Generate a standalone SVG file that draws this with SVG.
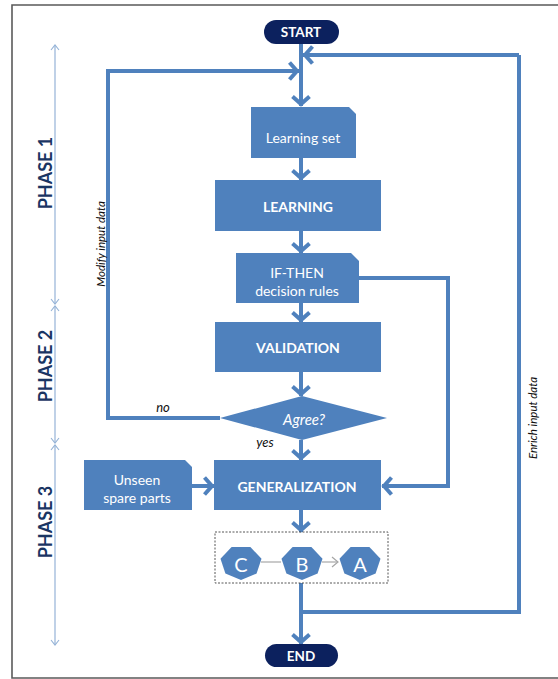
<svg xmlns="http://www.w3.org/2000/svg" width="558" height="679" viewBox="0 0 558 679">
<style>
.box{fill:#4f81bd}
.pill{fill:#0c215e}
.con{fill:none;stroke:#4f81bd;stroke-width:4;marker-end:url(#ah)}
.conp{fill:none;stroke:#4f81bd;stroke-width:4}
.t{font-family:Lato,"Open Sans","Liberation Sans",sans-serif;fill:#fff;text-anchor:middle;dominant-baseline:central}
.b{font-weight:bold}
.ph{font-family:Lato,"Open Sans","Liberation Sans",sans-serif;font-weight:bold;font-size:18px;fill:#1a3563;text-anchor:middle;dominant-baseline:central}
.lab{font-family:Lato,"Open Sans","Liberation Sans",sans-serif;font-style:italic;fill:#111;text-anchor:middle;dominant-baseline:central}
.axis{fill:none;stroke:#95b3d7;stroke-width:1.2;marker-start:url(#sa);marker-end:url(#sa)}
</style>
<defs>
<marker id="ah" markerUnits="userSpaceOnUse" markerWidth="22" markerHeight="22" viewBox="0 0 22 22" refX="18" refY="11" orient="auto">
<path d="M8.5,2.5 L16,11 L8.5,19.5" fill="none" stroke="#4f81bd" stroke-width="4"/>
</marker>
<marker id="sa" markerUnits="userSpaceOnUse" markerWidth="12" markerHeight="12" viewBox="0 0 12 12" refX="10" refY="6" orient="auto-start-reverse">
<path d="M5,2 L10,6 L5,10" fill="none" stroke="#95b3d7" stroke-width="1.1"/>
</marker>
<marker id="ga" markerUnits="userSpaceOnUse" markerWidth="12" markerHeight="12" viewBox="0 0 12 12" refX="10" refY="6" orient="auto">
<path d="M4,1 L10,6 L4,11" fill="none" stroke="#a6a6a6" stroke-width="1.2"/>
</marker>
</defs>
<rect width="558" height="679" fill="#fff"/>
<path d="M562,5 H12 V678 H562" fill="none" stroke="#5a5a5a" stroke-width="1.6"/>

<g id="phase-axis">
<line class="axis" x1="55" y1="45" x2="55" y2="304"/>
<line class="axis" x1="55" y1="306" x2="55" y2="443"/>
<line class="axis" x1="55" y1="445" x2="55" y2="645"/>
<text class="ph" transform="translate(45,173) rotate(-90)">PHASE 1</text>
<text class="ph" transform="translate(45,366) rotate(-90)">PHASE 2</text>
<text class="ph" transform="translate(45,522) rotate(-90)">PHASE 3</text>
</g>

<g id="connectors">
<path class="con" d="M301,44 V106"/>
<path class="con" d="M220,418 H108 V71 H299"/>
<path class="conp" d="M301,612 H519 V55"/>
<path class="con" d="M519,55 H303"/>
<path class="con" d="M301,158 V180"/>
<path class="con" d="M301,231 V253"/>
<path class="con" d="M301,303 V322"/>
<path class="con" d="M301,372 V396"/>
<path class="con" d="M301,440 V460"/>
<path class="con" d="M359,278 H448 V486 H382"/>
<path class="con" d="M192,486 H214"/>
<path class="con" d="M301,510 V532"/>
<path class="con" d="M301,583 V644"/>
<text class="lab" x="163" y="407" font-size="13">no</text>
<text class="lab" x="265" y="442" font-size="13">yes</text>
<text class="lab" font-size="11.5" transform="translate(100,244) rotate(-90)">Modify input data</text>
<text class="lab" font-size="11.5" transform="translate(532,418) rotate(-90)">Enrich input data</text>
</g>

<g id="start">
<rect class="pill" x="264" y="20" width="75" height="24" rx="12"/>
<text class="t b" x="301" y="32" font-size="13.5">START</text>
</g>

<g id="learning-set">
<path class="box" d="M251,107 H349 L356,114 V158 H251 Z"/>
<text class="t" x="303" y="137" font-size="14">Learning set</text>
</g>

<g id="learning">
<rect class="box" x="215" y="180" width="166" height="51"/>
<text class="t b" x="298" y="206" font-size="14">LEARNING</text>
</g>

<g id="if-then">
<path class="box" d="M236,253 H351 L359,261 V303 H236 Z"/>
<text class="t" x="297" y="272" font-size="14">IF-THEN</text>
<text class="t" x="297" y="290" font-size="14">decision rules</text>
</g>

<g id="validation">
<rect class="box" x="215" y="322" width="166" height="50"/>
<text class="t b" x="298" y="347" font-size="14">VALIDATION</text>
</g>

<g id="agree">
<path class="box" d="M220,418 L302,396 L387,418 L302,440 Z"/>
<text class="t" x="304" y="419" font-size="15" font-style="italic">Agree?</text>
</g>

<g id="unseen">
<path class="box" d="M84,460 H185 L192,467 V510 H84 Z"/>
<text class="t" x="137" y="479" font-size="14">Unseen</text>
<text class="t" x="137" y="497" font-size="14">spare parts</text>
</g>

<g id="generalization">
<rect class="box" x="214" y="460" width="167" height="50"/>
<text class="t b" x="297" y="486" font-size="14">GENERALIZATION</text>
</g>

<g id="classes">
<rect x="215" y="532" width="173" height="51" fill="none" stroke="#444" stroke-width="0.9" stroke-dasharray="2,1.5"/>
<line x1="261" y1="562" x2="281" y2="562" stroke="#a6a6a6" stroke-width="1.2"/>
<line x1="322" y1="562" x2="338" y2="562" stroke="#a6a6a6" stroke-width="1.2" marker-end="url(#ga)"/>
<g id="class-c">
<polygon class="box" points="241,580 256.6,573.6 261.5,558.8 250.4,547 231.6,547 220.5,558.8 225.4,573.6"/>
<text class="t" x="241" y="564" font-size="20">C</text>
</g>
<g id="class-b">
<polygon class="box" points="302,580 317.6,573.6 322.5,558.8 311.4,547 292.6,547 281.5,558.8 286.4,573.6"/>
<text class="t" x="302" y="564" font-size="20">B</text>
</g>
<g id="class-a">
<polygon class="box" points="360,580 375.6,573.6 380.5,558.8 369.4,547 350.6,547 339.5,558.8 344.4,573.6"/>
<text class="t" x="360" y="564" font-size="20">A</text>
</g>
</g>

<g id="end">
<rect class="pill" x="265" y="644" width="73" height="23" rx="11.5"/>
<text class="t b" x="301" y="655.5" font-size="13.5">END</text>
</g>
</svg>
